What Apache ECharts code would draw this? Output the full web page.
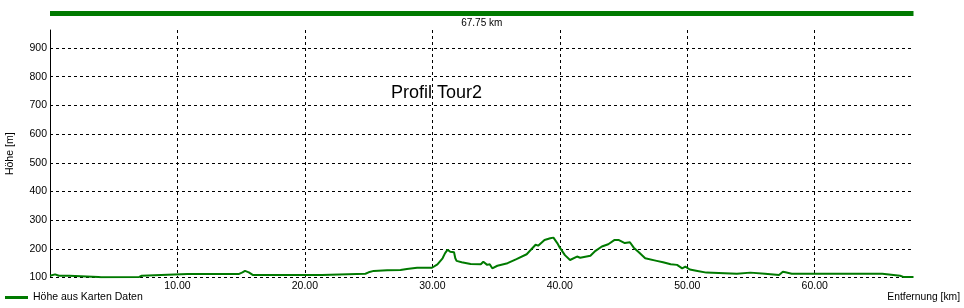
<!DOCTYPE html>
<html>
<head>
<meta charset="utf-8">
<script src="https://cdn.jsdelivr.net/npm/echarts@6/dist/echarts.min.js"></script>
<style>
html,body{margin:0;padding:0;background:#fff;}
#c{width:964px;height:308px;}
</style>
</head>
<body>
<div id="c"></div>
<script>
// ---- data ----
var totalDistance = 67.75;
var distanceKm = [0.0,0.4,0.7,1.5,1.6,3.8,4.0,7.0,7.2,8.2,8.3,10.8,10.9,11.15,13.0,13.1,13.5,14.8,15.1,15.3,15.6,15.9,21.35,21.5,24.75,25.0,25.4,26.45,27.5,28.0,28.8,29.97,30.4,30.8,31.0,31.2,31.4,31.7,31.8,31.9,32.3,33.0,33.8,34.0,34.3,34.5,34.7,35.1,35.9,36.6,37.4,38.1,38.3,38.8,39.25,39.5,39.8,40.0,40.4,40.8,41.35,41.6,42.4,42.8,43.3,43.8,44.3,44.6,45.1,45.5,45.8,46.2,46.7,47.6,48.1,48.7,49.2,49.6,49.85,50.2,50.8,51.5,53.9,54.0,54.95,55.0,56.1,56.2,57.2,57.5,57.7,58.2,65.3,65.4,66.7,66.95,67.75];
var elevationM = [106,111,106,106,103,102,101,102,106,108,111,112,118,112,112,116,112,112,118,123,118,109,109,113,113,118,123,125,126,130,134,134,146,167,185,197,190,188,167,158,153,147,146,155,144,146,132,141,150,164,181,214,211,231,237,239,220,204,178,161,173,169,176,193,208,216,231,231,220,223,204,188,167,158,153,146,144,132,138,128,123,117,113,117,117,113,113,109,109,120,118,113,113,109,106,102,102];
var yTicks = [100,200,300,400,500,600,700,800,900];
var xTicks = [10,20,30,40,50,60];
var seriesName = 'Höhe aus Karten Daten';
var chartTitle = 'Profil Tour2';
var xName = 'Entfernung [km]';
var yName = 'Höhe [m]';

var points = distanceKm.map(function(d,i){return [d, elevationM[i]];});
var FONT = 'Liberation Sans, Arial, sans-serif';
var GREEN = '#007a00';

var chart = echarts.init(document.getElementById('c'), null, {renderer:'canvas'});
chart.setOption({
  animation:false,
  backgroundColor:'#fff',
  textStyle:{fontFamily:FONT},
  title:[
    {text:chartTitle,left:386,top:79,textStyle:{fontSize:18,fontWeight:'normal',color:'#000',fontFamily:FONT}},
    {text:xName,right:4,top:292,padding:0,textStyle:{fontSize:10.3,fontWeight:'normal',color:'#000',fontFamily:FONT}}
  ],
  legend:{
    left:5, top:292, data:[seriesName], icon:'rect', itemWidth:23, itemHeight:3,
    textStyle:{fontSize:10.5,color:'#000',fontFamily:FONT}, padding:0
  },
  grid:[
    {left:50,width:863.5,top:30,height:247.5,containLabel:false,outerBoundsMode:'none'},
    {left:50,width:863.5,top:11,height:5,containLabel:false,outerBoundsMode:'none'}
  ],
  xAxis:[
    {type:'value',gridIndex:0,min:0,max:totalDistance,interval:10,
      axisLine:{show:false},axisTick:{show:false},
      axisLabel:{color:'#000',fontSize:10.5,margin:3,fontFamily:FONT,showMaxLabel:false,showMinLabel:false,
        formatter:function(v){return v.toFixed(2);}},
      splitLine:{show:true,showMinLine:false,showMaxLine:false,lineStyle:{color:'#000',type:[3,3],width:1}}
    },
    {type:'value',gridIndex:1,min:0,max:totalDistance,show:false}
  ],
  yAxis:[
    {type:'value',gridIndex:0,min:100,max:100+247.5*800/229.5,interval:100,
      name:yName,nameLocation:'middle',nameGap:34,
      nameTextStyle:{color:'#000',fontSize:10.5,fontFamily:FONT},
      axisLine:{show:true,lineStyle:{color:'#000',width:1}},axisTick:{show:false},
      axisLabel:{color:'#000',fontSize:10.5,margin:3,fontFamily:FONT,showMaxLabel:false,showMinLabel:true},
      splitLine:{show:true,showMinLine:true,showMaxLine:false,lineStyle:{color:'#000',type:[3,3],width:1}}
    },
    {type:'category',gridIndex:1,data:['total'],show:false}
  ],
  series:[
    {name:seriesName,type:'line',xAxisIndex:0,yAxisIndex:0,data:points,showSymbol:false,symbol:'none',
      lineStyle:{color:GREEN,width:2},itemStyle:{color:GREEN},z:5},
    {name:'total',type:'bar',xAxisIndex:1,yAxisIndex:1,data:[totalDistance],barWidth:6,
      itemStyle:{color:GREEN},
      label:{show:true,position:'bottom',distance:2,color:'#000',fontSize:10,fontFamily:FONT,
        formatter:function(p){return p.value.toFixed(2)+' km';}}
    }
  ]
});
</script>
</body>
</html>
